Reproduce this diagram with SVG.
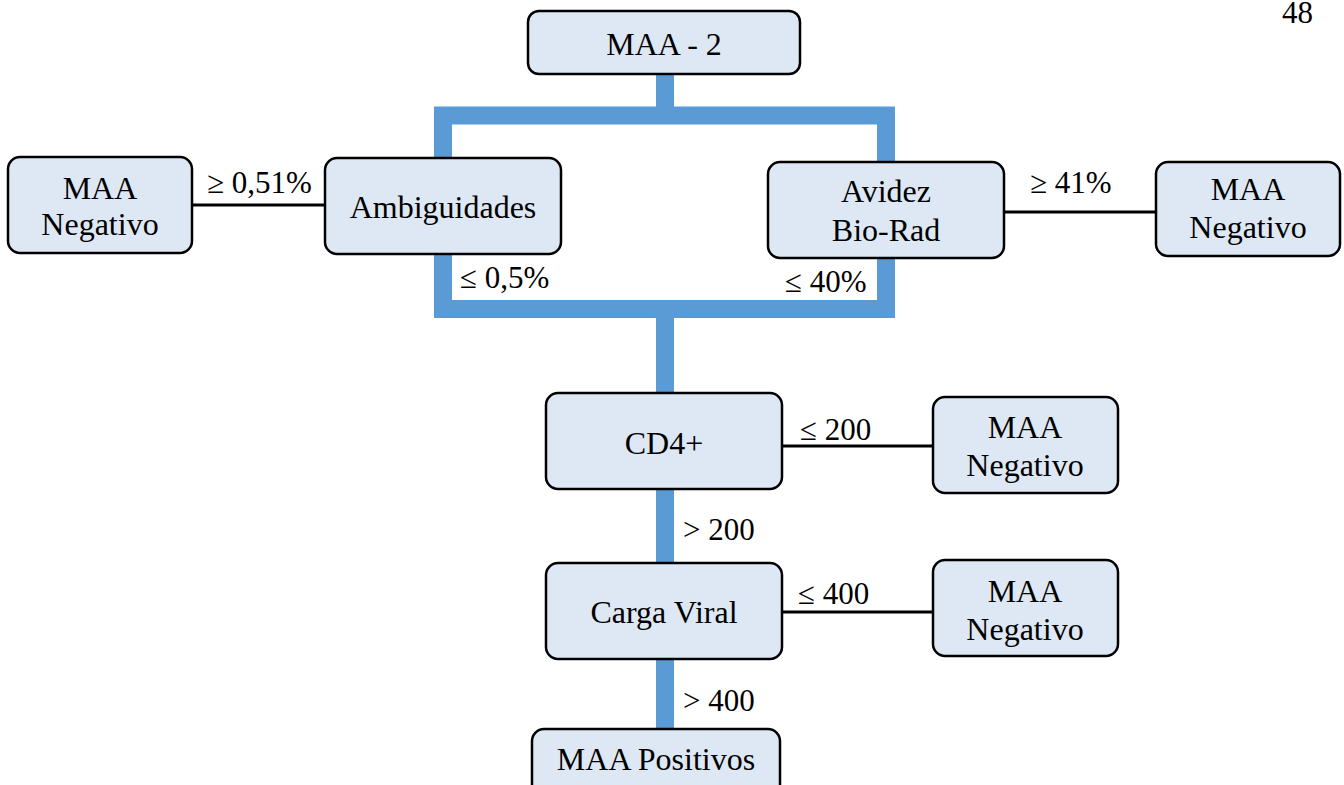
<svg xmlns="http://www.w3.org/2000/svg" width="1344" height="785" viewBox="0 0 1344 785">
<style>
.box{fill:#dde8f4;stroke:#000;stroke-width:2.5}
.t{font-family:"Liberation Serif","Times New Roman",serif;font-size:32px;fill:#000;text-anchor:middle}
.l{font-family:"Liberation Serif","Times New Roman",serif;font-size:31px;fill:#000}
.blue{fill:none;stroke:#5b9bd5;stroke-width:18}
.blk{fill:none;stroke:#000;stroke-width:3}
</style>
<rect width="1344" height="785" fill="#fff"/>
<text class="l" x="1282" y="23">48</text>
<g id="connectors">
<path class="blue" d="M443,115.5 H886 V309 H443 Z"/>
<path class="blue" d="M665,74 V110"/>
<path class="blue" d="M665,312 V393"/>
<path class="blue" d="M665,489 V563"/>
<path class="blue" d="M665,659 V730"/>
<path class="blk" d="M192,205 H325"/>
<path class="blk" d="M1004,212 H1156"/>
<path class="blk" d="M782,446 H933"/>
<path class="blk" d="M782,612 H933"/>
<text class="l" x="207" y="193">≥ 0,51%</text>
<text class="l" x="1030" y="193">≥ 41%</text>
<text class="l" x="460" y="288">≤ 0,5%</text>
<text class="l" x="785" y="292">≤ 40%</text>
<text class="l" x="800" y="440">≤ 200</text>
<text class="l" x="683" y="540">&gt; 200</text>
<text class="l" x="798" y="604">≤ 400</text>
<text class="l" x="683" y="711">&gt; 400</text>
</g>
<g id="maa2"><rect class="box" x="528" y="11" width="272" height="63" rx="11"/><text class="t" x="664" y="55">MAA - 2</text></g>
<g id="neg1"><rect class="box" x="8" y="157" width="184" height="96" rx="12"/><text class="t" x="100" y="199">MAA</text><text class="t" x="100" y="235">Negativo</text></g>
<g id="ambig"><rect class="box" x="325" y="158" width="236" height="96" rx="12"/><text class="t" x="443" y="218">Ambiguidades</text></g>
<g id="avidez"><rect class="box" x="768" y="162" width="236" height="96" rx="12"/><text class="t" x="886" y="202">Avidez</text><text class="t" x="886" y="241">Bio-Rad</text></g>
<g id="neg2"><rect class="box" x="1156" y="162" width="184" height="94" rx="12"/><text class="t" x="1248" y="200">MAA</text><text class="t" x="1248" y="238">Negativo</text></g>
<g id="cd4"><rect class="box" x="546" y="393" width="236" height="96" rx="12"/><text class="t" x="664" y="454">CD4+</text></g>
<g id="neg3"><rect class="box" x="933" y="397" width="185" height="96" rx="12"/><text class="t" x="1025" y="438">MAA</text><text class="t" x="1025" y="476">Negativo</text></g>
<g id="carga"><rect class="box" x="546" y="563" width="236" height="96" rx="12"/><text class="t" x="664" y="623">Carga Viral</text></g>
<g id="neg4"><rect class="box" x="933" y="560" width="185" height="96" rx="12"/><text class="t" x="1025" y="602">MAA</text><text class="t" x="1025" y="640">Negativo</text></g>
<g id="pos"><rect class="box" x="532" y="729" width="248" height="70" rx="12"/><text class="t" x="656" y="770">MAA Positivos</text></g>
</svg>
